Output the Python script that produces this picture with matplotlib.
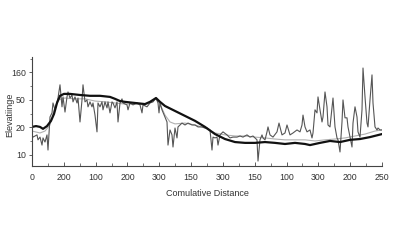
import matplotlib
matplotlib.use("Agg")
import matplotlib.pyplot as plt
from matplotlib.ticker import AutoMinorLocator

plt.rcParams["font.family"] = ["Liberation Sans", "DejaVu Sans"]

# y values are in axis-position units: tick 10 -> 1, 20 -> 2, 50 -> 3, 160 -> 4
trend_x = [0, 4, 8, 11, 15, 19, 22, 25, 28, 32, 38, 48, 58, 68, 78, 83, 88, 93,
           103, 113, 118, 124, 128, 133, 143, 153, 163, 173, 183, 193, 203, 213,
           223, 233, 243, 253, 263, 273, 278, 288, 298, 308, 318, 328, 338, 350]
trend_y = [2.02, 2.05, 2.02, 1.95, 2.05, 2.24, 2.49, 2.89, 3.15, 3.22, 3.22, 3.18,
           3.15, 3.15, 3.11, 3.04, 2.96, 2.93, 2.89, 2.85, 2.93, 3.07, 2.93, 2.78,
           2.60, 2.42, 2.24, 2.02, 1.76, 1.58, 1.47, 1.44, 1.44, 1.47, 1.44, 1.40,
           1.44, 1.40, 1.36, 1.44, 1.51, 1.47, 1.55, 1.58, 1.65, 1.76]

raw_x = [0, 1, 5, 6, 8, 10, 11, 13, 15, 16, 18, 20, 21, 23, 25, 26, 28, 30, 31, 33,
         35, 36, 38, 40, 41, 43, 45, 46, 48, 50, 51, 53, 55, 56, 58, 60, 61, 63, 65,
         66, 68, 70, 71, 73, 75, 76, 78, 80, 81, 83, 85, 86, 88, 90, 91, 95, 96, 98,
         101, 105, 108, 110, 111, 115, 118, 121, 124, 126, 127, 128, 130, 133, 135,
         136, 138, 140, 141, 143, 145, 146, 150, 153, 156, 160, 163, 166, 170, 173,
         175, 178, 180, 181, 183, 185, 186, 188, 191, 195, 198, 201, 205, 208, 211,
         215, 218, 221, 223, 225, 226, 228, 230, 231, 233, 235, 236, 238, 241, 245,
         247, 250, 253, 255, 258, 261, 265, 268, 270, 271, 273, 275, 278, 280, 281,
         283, 285, 286, 288, 290, 291, 293, 295, 296, 298, 301, 303, 305, 306, 308,
         310, 311, 313, 315, 316, 318, 320, 321, 323, 325, 326, 328, 330, 331, 333,
         335, 336, 338, 340, 341, 343, 345, 346, 348, 350]
raw_y = [1.73, 1.65, 1.73, 1.55, 1.65, 1.36, 1.62, 1.47, 1.73, 1.18, 2.38, 2.53,
         2.89, 2.64, 2.93, 3.07, 3.55, 2.75, 3.11, 2.56, 3.11, 3.29, 3.07, 3.18,
         2.93, 3.11, 2.89, 3.07, 2.20, 3.00, 3.55, 2.93, 3.00, 2.75, 2.93, 2.75,
         2.89, 2.45, 1.84, 2.89, 2.75, 2.93, 2.64, 2.93, 2.71, 2.93, 2.53, 2.93,
         2.89, 2.71, 2.93, 2.20, 2.89, 3.04, 2.89, 2.82, 2.64, 2.89, 2.82, 2.89,
         2.82, 2.53, 2.82, 2.75, 2.89, 2.93, 3.07, 2.89, 2.53, 2.89, 2.64, 2.38,
         2.20, 1.36, 1.91, 1.73, 1.29, 1.98, 1.62, 2.02, 2.16, 2.09, 2.16, 2.09,
         2.09, 2.02, 2.02, 1.98, 1.98, 1.91, 1.18, 1.65, 1.62, 1.65, 1.36, 1.73,
         1.84, 1.73, 1.62, 1.65, 1.65, 1.69, 1.65, 1.73, 1.65, 1.69, 1.62, 1.55,
         0.78, 1.55, 1.73, 1.62, 1.55, 1.84, 2.02, 1.73, 1.65, 1.84, 2.16, 1.73,
         1.80, 2.09, 1.73, 1.80, 1.91, 1.84, 2.09, 2.45, 2.02, 1.84, 1.91, 1.62,
         1.80, 2.64, 2.53, 3.11, 2.64, 2.20, 2.38, 3.29, 2.75, 2.09, 2.02, 3.07,
         2.02, 1.62, 1.55, 1.11, 2.20, 3.00, 2.35, 2.35, 2.02, 1.65, 1.29, 2.16,
         2.75, 2.38, 1.84, 1.65, 2.64, 4.16, 3.11, 2.16, 2.02, 3.00, 3.91, 2.89,
         2.02, 1.91, 1.98, 1.91, 1.91]

smooth_x = [0, 8, 13, 18, 22, 26, 33, 43, 53, 63, 73, 83, 93, 103, 113, 120, 124,
            128, 133, 138, 143, 153, 163, 173, 183, 193, 203, 213, 223, 233, 243,
            253, 263, 273, 283, 293, 303, 313, 323, 333, 343, 350]
smooth_y = [1.87, 1.80, 1.87, 2.09, 2.64, 3.00, 3.07, 3.04, 3.04, 2.96, 2.93, 2.89,
            2.85, 2.85, 2.82, 2.93, 3.04, 2.85, 2.45, 2.20, 2.13, 2.16, 2.09, 1.98,
            1.80, 1.73, 1.69, 1.69, 1.65, 1.62, 1.58, 1.55, 1.55, 1.55, 1.51, 1.55,
            1.58, 1.62, 1.69, 1.76, 1.87, 1.91]

x_ticks = [i * 350 / 11 for i in range(12)]
x_labels = ["0", "200", "100", "200", "300", "150", "300", "150", "100", "300", "200", "250"]
y_ticks = [1, 2, 3, 4]
y_labels = ["10", "20", "50", "160"]

fig = plt.figure(figsize=(4, 2.5), dpi=100)
ax = fig.add_axes([0.08, 0.336, 0.875, 0.436])

ax.plot(smooth_x, smooth_y, color="#b0b0b0", linewidth=0.8)
ax.plot(raw_x, raw_y, color="#555555", linewidth=0.8)
ax.plot(trend_x, trend_y, color="#111111", linewidth=1.6)

ax.set_xlim(0, 350)
ax.set_ylim(0.6, 4.56)
ax.set_xticks(x_ticks)
ax.set_xticklabels(x_labels)
ax.set_yticks(y_ticks)
ax.set_yticklabels(y_labels)
ax.xaxis.set_minor_locator(AutoMinorLocator(2))
ax.yaxis.set_minor_locator(AutoMinorLocator(2))

for side in ("top", "right"):
    ax.spines[side].set_visible(False)
for side in ("left", "bottom"):
    ax.spines[side].set_color("#444444")
    ax.spines[side].set_linewidth(0.8)

ax.tick_params(axis="x", which="major", direction="in", length=3, width=0.6,
               labelsize=6.3, colors="#444444", labelcolor="#333333", pad=5)
ax.tick_params(axis="x", which="minor", direction="in", length=2, width=0.5, colors="#444444")
ax.tick_params(axis="y", which="major", direction="out", length=2.5, width=0.6,
               labelsize=6.3, colors="#444444", labelcolor="#333333", pad=2)
ax.tick_params(axis="y", which="minor", direction="out", length=1.5, width=0.5, colors="#444444")

ax.set_xlabel("Comulative Distance", fontsize=6.5, color="#333333", labelpad=5)
ax.set_ylabel("Elevatiinge", fontsize=6.5, color="#333333")
ax.yaxis.set_label_coords(-0.052, 0.47)

fig.savefig("out.png", dpi=100)
